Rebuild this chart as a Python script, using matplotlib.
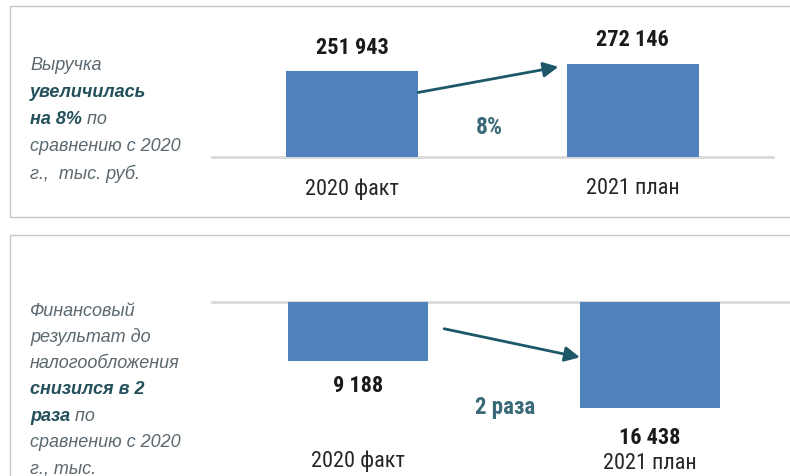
import matplotlib
matplotlib.use('Agg')
import matplotlib.pyplot as plt
from matplotlib.patches import Rectangle

# Данные
categories = ['2020 факт', '2021 план']
revenue = [251943, 272146]
revenue_labels = ['251 943', '272 146']
profit = [-9188, -16438]
profit_labels = ['9 188', '16 438']
revenue_change = '8%'
profit_change = '2 раза'

BAR_COLOR = '#4F81BD'
GRAY_TEXT = '#5B6870'
BOLD_TEXT = '#24505C'
ARROW_COLOR = '#1E5868'
NARROW = ['Roboto Condensed', 'PT Sans Narrow', 'Liberation Sans', 'DejaVu Sans']
ITALIC = ['Liberation Sans', 'DejaVu Sans']

W, H = 790, 477
fig = plt.figure(figsize=(W / 100, H / 100), dpi=100)


def px_axes(x0, y_top, x1, y_bot):
    # прямоугольник в пикселях (отсчёт сверху) -> координаты фигуры
    return [x0 / W, 1 - y_bot / H, (x1 - x0) / W, (y_bot - y_top) / H]


# Рамки панелей
fig.patches.append(Rectangle((10 / W, 1 - 218 / H), 800 / W, 211 / H, transform=fig.transFigure,
                             fill=False, edgecolor='#C8C8C8', linewidth=1))
fig.patches.append(Rectangle((10 / W, -0.1), 800 / W, 1 - 236 / H + 0.1, transform=fig.transFigure,
                             fill=False, edgecolor='#C8C8C8', linewidth=1))


def left_text(lines, y0, step):
    # lines: список строк, каждая - список (текст, жирный)
    for i, line in enumerate(lines):
        last = None
        for txt, bold in line:
            kw = dict(fontsize=13, style='italic', family=ITALIC,
                      color=BOLD_TEXT if bold else GRAY_TEXT,
                      fontweight='bold' if bold else 'normal')
            if last is None:
                last = fig.text(30 / W, 1 - (y0 + i * step) / H, txt, va='center', ha='left', **kw)
            else:
                last = plt.annotate(txt, xy=(1, 0.5), xycoords=prev, va='center', ha='left', **kw)
            prev = last


def draw_panel(ax, values, labels, change, scale_top, scale_bot, width,
               val_off, cat_off, arrow_from, arrow_to, change_pos, change_size):
    x = list(range(len(categories)))
    ax.bar(x, values, width=width, color=BAR_COLOR, zorder=2)
    ax.set_xlim(-0.5, len(categories) - 0.5)
    ax.set_ylim(scale_bot, scale_top)
    ax.axhline(0, color='#D9D9D9', linewidth=2, zorder=1, clip_on=False)
    ax.axis('off')
    for i, (v, lab) in enumerate(zip(values, labels)):
        sign = 1 if v > 0 else -1
        ax.annotate(lab, xy=(i, v), xytext=(0, sign * val_off[i]), textcoords='offset pixels',
                    ha='center', va='center', fontsize=16, fontweight='bold',
                    family=NARROW, color='#1A1A1A', annotation_clip=False)
        ax.annotate(categories[i], xy=(i, 0), xytext=(0, cat_off[i]), textcoords='offset pixels',
                    ha='center', va='center', fontsize=16, family=NARROW,
                    color='#262626', annotation_clip=False)
    ax.annotate('', xy=arrow_to, xytext=arrow_from,
                arrowprops=dict(arrowstyle='-|>,head_length=0.9,head_width=0.45',
                                color=ARROW_COLOR, lw=2, shrinkA=0, shrinkB=0))
    ax.text(change_pos[0], change_pos[1], change, ha='center', va='center',
            fontsize=change_size, fontweight='bold', family=NARROW, color='#3A6A78')


# Верхняя панель: выручка
ax1 = fig.add_axes(px_axes(212, 20, 773, 158))
w1 = 0.47
draw_panel(ax1, revenue, revenue_labels, revenue_change,
           138 * 2928, 0, w1, [24, 25], [-31, -31],
           (w1 / 2, revenue[0] * 0.75), (1 - w1 / 2 - 0.03, revenue[1] * 0.97),
           (0.49, revenue[1] * 0.333), 17)

# Нижняя панель: финансовый результат
ax2 = fig.add_axes(px_axes(212, 250, 796, 303 + 174))
w2 = 0.48
draw_panel(ax2, profit, profit_labels, profit_change,
           53 * 154.5, -174 * 154.5, w2, [24, 29], [-158, -161],
           (0.295, profit[0] * 0.45), (1 - w2 / 2, profit[1] * 0.52),
           (0.503, profit[1] * 0.98), 16.5)

left_text([[('Выручка', False)],
           [('увеличилась', True)],
           [('на 8%', True), (' по', False)],
           [('сравнению с 2020', False)],
           [('г.,  тыс. руб.', False)]], 66, 27)

left_text([[('Финансовый', False)],
           [('результат до', False)],
           [('налогообложения', False)],
           [('снизился в 2', True)],
           [('раза', True), (' по', False)],
           [('сравнению с 2020', False)],
           [('г., тыс.', False)]], 311, 26.3)

fig.savefig('out.png', dpi=100, facecolor='white')
